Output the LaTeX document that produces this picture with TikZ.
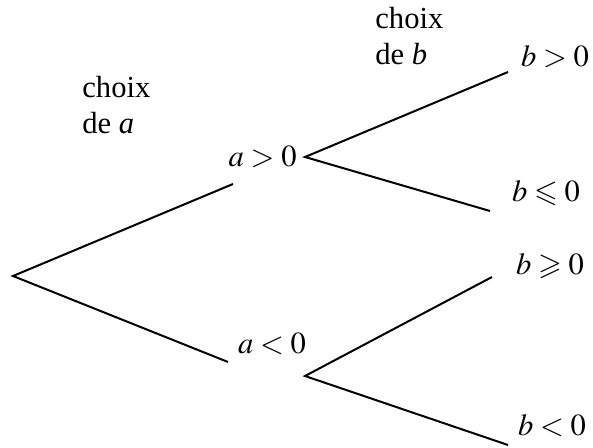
\documentclass[tikz,border=0pt]{standalone}
\usepackage{amssymb}
\usepackage{mathptmx}
\usepackage[no-math]{fontspec}
\setmainfont{Liberation Serif}
\usepackage{tikz}
\usetikzlibrary{positioning}
\tikzset{
  lbl/.style={inner sep=0pt, font=\fontsize{15.3}{18}\selectfont},
  note/.style={inner sep=0pt, align=left, font=\fontsize{15.3}{18}\selectfont},
  branch/.style={line width=1pt, draw=black}
}

\begin{document}
\begin{tikzpicture}[x=0.5pt, y=-0.5pt]
\useasboundingbox (0,0) rectangle (593,448);
\node[note, anchor=north west] (choixa) at (82,76) {choix\\de \textit{a}};
\node[note, anchor=north west] (choixb) at (375,7) {choix\\de \textit{b}};
\node[lbl, anchor=east, inner sep=4pt] (apos) at (305,157) {$a>0$};
\node[lbl, anchor=base] (aneg) at (272,353) {$a<0$};
\node[lbl, anchor=base] (bpos) at (555,67) {$b>0$};
\node[lbl, anchor=base] (bleq) at (546,202) {$b\leqslant 0$};
\node[lbl, anchor=base] (bgeq) at (550,275) {$b\geqslant 0$};
\node[lbl, anchor=base] (bneg) at (552,435) {$b<0$};
\coordinate (root) at (13,276);
\coordinate (aup) at (233,184);
\coordinate (adown) at (228,362);
\coordinate (fork) at (305,376);
\coordinate (bup1) at (508,72);
\coordinate (bdown1) at (490,211);
\coordinate (bup2) at (492,277);
\coordinate (bdown2) at (508,445);
\draw[branch] (aup) -- (root) -- (adown);
\draw[branch] (bup1) -- (apos.east) -- (bdown1);
\draw[branch] (bup2) -- (fork) -- (bdown2);
\end{tikzpicture}
\end{document}
